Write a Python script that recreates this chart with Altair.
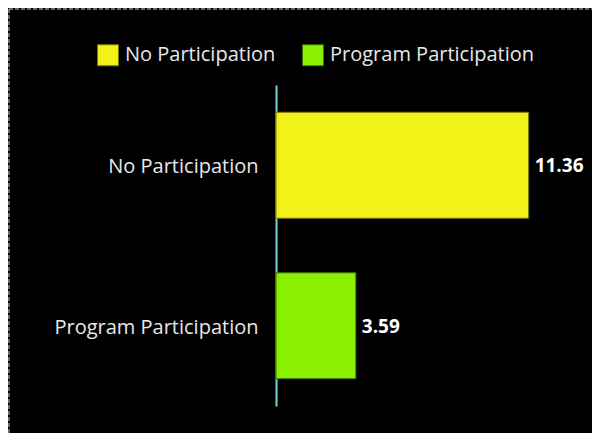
import altair as alt
import pandas as pd

categories = ["No Participation", "Program Participation"]
values = [11.36, 3.59]
fill_colors = ["#f2f218", "#88f000"]
stroke_colors = ["#7a7a08", "#3f7000"]

df = pd.DataFrame({"Category": categories, "Value": values})
frame = pd.DataFrame({"k": [0]})

FONT = "Open Sans"
FS = 20

legend_cfg = dict(
    title=None,
    orient="none",
    legendX=-179,
    legendY=-41,
    direction="horizontal",
    symbolType="square",
    symbolSize=441,
    symbolStrokeWidth=1,
    labelFontSize=FS,
    labelColor="#e8e8e8",
    labelFont=FONT,
    labelOffset=6,
    labelLimit=0,
    columnPadding=24,
)

base = alt.Chart(df)

bars = base.mark_bar(strokeWidth=1).encode(
    y=alt.Y(
        "Category:N",
        sort=categories,
        title=None,
        scale=alt.Scale(paddingInner=0.34, paddingOuter=0.17),
        axis=alt.Axis(
            domain=True,
            domainColor="#74d4d8",
            domainWidth=2,
            ticks=False,
            labelFontSize=FS,
            labelColor="#e8e8e8",
            labelFont=FONT,
            labelPadding=18,
            labelOffset=2,
            labelLimit=0,
            grid=False,
        ),
    ),
    x=alt.X("Value:Q", scale=alt.Scale(domain=[0, 12.5], nice=False), axis=None),
    fill=alt.Fill(
        "Category:N",
        sort=categories,
        scale=alt.Scale(domain=categories, range=fill_colors),
        legend=alt.Legend(**legend_cfg),
    ),
    stroke=alt.Stroke(
        "Category:N",
        sort=categories,
        scale=alt.Scale(domain=categories, range=stroke_colors),
        legend=alt.Legend(**legend_cfg),
    ),
)

labels = base.mark_text(
    align="left", baseline="middle", dx=6, dy=1, fontSize=19, fontWeight="bold",
    color="#ffffff", font=FONT,
).encode(
    y=alt.Y("Category:N", sort=categories),
    x=alt.X("Value:Q"),
    text=alt.Text("Value:Q", format=".2f"),
)

top_line = alt.Chart(frame).mark_rule(
    color="#d0d0d0", strokeDash=[4, 2], strokeWidth=1
).encode(x=alt.value(-267), x2=alt.value(320), y=alt.value(-76))

left_line = alt.Chart(frame).mark_rule(
    color="#d0d0d0", strokeDash=[4, 2], strokeWidth=1
).encode(x=alt.value(-267), y=alt.value(-76), y2=alt.value(360))

chart = alt.layer(bars, labels, top_line, left_line).properties(
    width=278,
    height=321,
    background="#000000",
    padding={"left": 268, "top": 77, "right": 38, "bottom": 27},
    autosize=alt.AutoSizeParams(type="none"),
).configure_view(stroke=None)

chart.save("out.html", embed_options={"renderer": "svg", "actions": False})
